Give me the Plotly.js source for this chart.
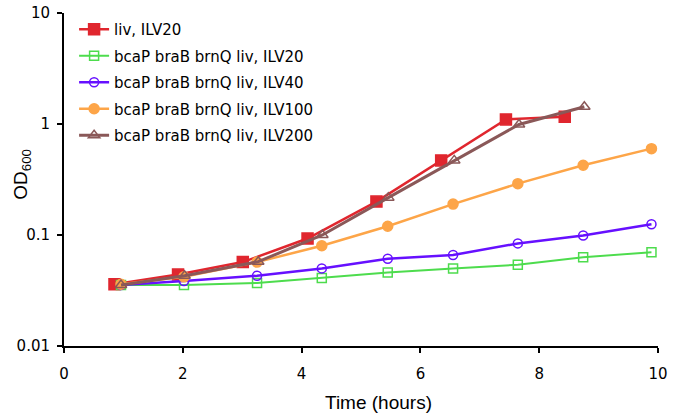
<!DOCTYPE html>
<html>
<head>
<meta charset="utf-8">
<script src="https://cdn.plot.ly/plotly-3.0.1.min.js"></script>
<style>html,body{margin:0;padding:0;background:#fff;}#chart{width:683px;height:416px;}</style>
</head>
<body>
<div id="chart"></div>
<script>
// Data
const seriesNames = [
  "liv, ILV20",
  "bcaP braB brnQ liv, ILV20",
  "bcaP braB brnQ liv, ILV40",
  "bcaP braB brnQ liv, ILV100",
  "bcaP braB brnQ liv, ILV200"
];
const timeLiv = [0.85, 1.92, 3.01, 4.10, 5.26, 6.35, 7.44, 8.43];
const odLiv20 = [0.036, 0.044, 0.057, 0.093, 0.20, 0.47, 1.10, 1.16];
const timeMut = [0.96, 2.02, 3.25, 4.34, 5.45, 6.55, 7.64, 8.74, 9.89];
const odMut20 = [0.0355, 0.0355, 0.037, 0.041, 0.046, 0.050, 0.054, 0.063, 0.070];
const odMut40 = [0.0355, 0.0385, 0.043, 0.050, 0.061, 0.066, 0.084, 0.099, 0.125];
const odMut100 = [0.036, 0.042, 0.057, 0.080, 0.12, 0.19, 0.29, 0.425, 0.60];
const timeMut200 = [0.96, 2.03, 3.27, 4.35, 5.46, 6.57, 7.66, 8.76];
const odMut200 = [0.0355, 0.043, 0.0575, 0.10, 0.217, 0.47, 0.99, 1.43];
const xTickVals = [0, 2, 4, 6, 8, 10];
const yTickVals = [0.01, 0.1, 1, 10];
const yTickText = ["0.01", "0.1", "1", "10"];

const colors = ["#e0262e", "#4ddc4d", "#6610ff", "#fda548", "#8a5858"];
const symbols = ["square", "square-open", "circle-open", "circle", "triangle-up-open"];
const sizes = [11, 9, 9, 10, 10];
const xs = [timeLiv, timeMut, timeMut, timeMut, timeMut200];
const ys = [odLiv20, odMut20, odMut40, odMut100, odMut200];
const widths = [2.5, 2, 2.5, 2.5, 3];

const traces = seriesNames.map((n, i) => ({
  x: xs[i], y: ys[i], name: n, type: "scatter", mode: "lines+markers",
  legendgroup: "g" + i,
  line: {color: colors[i], width: widths[i]},
  marker: {symbol: symbols[i], size: sizes[i], color: colors[i],
           line: {color: colors[i], width: 1.5}}
}));

const layout = {
  width: 683, height: 416,
  margin: {l: 64, r: 25, t: 13, b: 70},
  paper_bgcolor: "#fff", plot_bgcolor: "#fff",
  font: {family: "DejaVu Sans, Verdana, sans-serif", size: 15, color: "#000"},
  showlegend: true,
  legend: {x: 0.017, y: 1.0, xanchor: "left", yanchor: "top",
           bgcolor: "rgba(0,0,0,0)", font: {size: 15, family: "DejaVu Sans, Verdana, sans-serif"},
           traceorder: "grouped", tracegroupgap: 4},
  xaxis: {range: [0, 10], tickvals: xTickVals, showgrid: false, zeroline: false,
          showline: true, linecolor: "#000", linewidth: 2, ticks: "outside",
          ticklen: 5, tickwidth: 2, tickcolor: "#000", ticklabelstandoff: 8},
  yaxis: {type: "log", range: [-2, 1], tickvals: yTickVals, ticktext: yTickText,
          showgrid: false, zeroline: false, showline: true, linecolor: "#000",
          linewidth: 2, ticks: "outside", ticklen: 5, tickwidth: 2, tickcolor: "#000",
          ticklabelstandoff: 4},
  annotations: [
    {text: "Time (hours)", xref: "paper", yref: "paper", x: 0.53, y: -0.171,
     xanchor: "center", yanchor: "middle", showarrow: false,
     font: {family: "Liberation Sans, Arial, sans-serif", size: 19, color: "#000"}},
    {text: "OD<sub>600</sub>", xref: "paper", yref: "paper", x: -0.072, y: 0.515,
     xanchor: "center", yanchor: "middle", showarrow: false, textangle: -90,
     font: {family: "Liberation Sans, Arial, sans-serif", size: 19, color: "#000"}}
  ]
};

Plotly.newPlot("chart", traces, layout, {staticPlot: true, displayModeBar: false});
</script>
</body>
</html>
